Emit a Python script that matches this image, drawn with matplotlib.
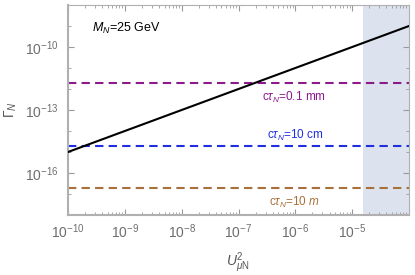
import numpy as np
import matplotlib
matplotlib.use("Agg")
import matplotlib.pyplot as plt
from matplotlib.ticker import LogLocator, FixedLocator, NullFormatter

plt.rcParams['font.family'] = ['Liberation Sans', 'DejaVu Sans']
plt.rcParams['mathtext.fontset'] = 'custom'
plt.rcParams['mathtext.rm'] = 'Liberation Sans'
plt.rcParams['mathtext.it'] = 'Liberation Sans:italic'
plt.rcParams['mathtext.sf'] = 'Liberation Sans'

# data
U2 = [1e-10, 1e-4]
Gamma = [1e-15, 1e-9]
ctau_labels = [r"c$\tau_N$=0.1 mm", r"c$\tau_N$=10 cm", r"c$\tau_N$=10 $m$"]
ctau_gamma = [1.97e-12, 1.97e-15, 1.97e-17]
ctau_colors = ['#8b1a8b', '#1f2fe0', '#a8703a']
shade_start = 1.55e-5
xlim = (1e-10, 1e-4)
ylim = (1e-18, 1e-8)

fig = plt.figure(figsize=(4.15, 2.75), dpi=100)
ax = fig.add_axes([68/415, 1-215/275, (409-68)/415, (215-5)/275])
ax.set_xscale('log'); ax.set_yscale('log')
ax.set_xlim(*xlim); ax.set_ylim(*ylim)

ax.axvspan(shade_start, xlim[1], color='#dde3ee', zorder=0, lw=0)
ax.plot(U2, Gamma, color='black', lw=1.5, zorder=3)
for g, c in zip(ctau_gamma, ctau_colors):
    ax.axhline(g, color=c, lw=1.5, ls=(0, (4, 2.5)), zorder=2)

ax.text(2.6e-10, 7.8e-10, r"$M_N$=25 GeV", fontsize=9, color='black', va='center')
ax.text(2.6e-7, 4e-13, ctau_labels[0], fontsize=8.5, color=ctau_colors[0], va='center')
ax.text(3.2e-7, 6e-15, ctau_labels[1], fontsize=8.5, color=ctau_colors[1], va='center')
ax.text(3.5e-7, 4e-18, ctau_labels[2], fontsize=8.5, color=ctau_colors[2], va='center')

gray = '#999999'
for s in ['left', 'bottom']:
    ax.spines[s].set_color('#b0b0b0'); ax.spines[s].set_linewidth(1.5)
for s in ['top', 'right']:
    ax.spines[s].set_color('#b0b0b0'); ax.spines[s].set_linewidth(0.8)

ax.xaxis.set_major_locator(FixedLocator([10.0**k for k in range(-10, -4)]))
ax.xaxis.set_minor_locator(LogLocator(base=10, subs=np.arange(2, 10), numticks=20))
ax.xaxis.set_minor_formatter(NullFormatter())
ax.yaxis.set_major_locator(FixedLocator([1e-10, 1e-13, 1e-16]))
ax.yaxis.set_minor_locator(FixedLocator([10.0**k for k in range(-18, -7)]))
ax.yaxis.set_minor_formatter(NullFormatter())
ax.set_xticklabels([r"$10^{%d}$" % k for k in range(-10, -4)])
ax.set_yticklabels([r"$10^{-10}$", r"$10^{-13}$", r"$10^{-16}$"])
ax.tick_params(which='both', direction='in', top=True, right=True, color=gray,
               labelcolor='#6e6e6e', labelsize=10)
ax.tick_params(which='major', length=4, width=0.8)
ax.tick_params(axis='x', which='major', pad=5)
ax.tick_params(axis='y', which='major', pad=7)
ax.tick_params(which='minor', length=2, width=0.6)

fig.text(238/415, 1-263/275, r"$U^2_{\mu\mathrm{N}}$", fontsize=10, color='#555555',
         ha='center', va='center')
fig.text(11/415, 1-110/275, r"$\Gamma_N$", fontsize=10, color='#555555',
         ha='center', va='center', rotation=90)

fig.savefig('out.png', dpi=100)
